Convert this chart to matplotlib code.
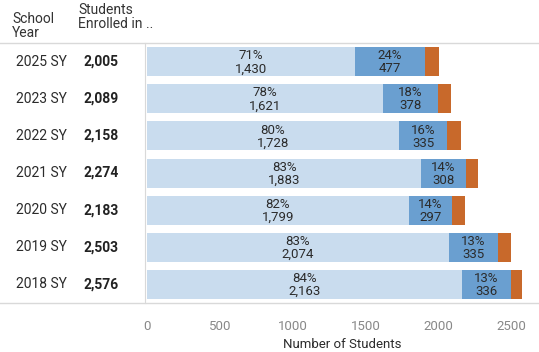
import matplotlib.pyplot as plt

plt.rcParams["font.family"] = ["Roboto", "DejaVu Sans"]

# Enrollment by school year (top row first)
years = ["2025 SY", "2023 SY", "2022 SY", "2021 SY", "2020 SY", "2019 SY", "2018 SY"]
totals = [2005, 2089, 2158, 2274, 2183, 2503, 2576]
group_a = [1430, 1621, 1728, 1883, 1799, 2074, 2163]
group_b = [477, 378, 335, 308, 297, 335, 336]
group_c = [t - a - b for t, a, b in zip(totals, group_a, group_b)]

colors = ["#c9dcee", "#6a9fd0", "#c8692b"]

fig = plt.figure(figsize=(5.39, 3.52), dpi=100)
ax = fig.add_axes([0.269, 0.139, 0.731, 0.739])

n = len(years)
ypos = list(range(n))
h = 0.78

left = [0] * n
for seg, c in zip([group_a, group_b, group_c], colors):
    ax.barh(ypos, seg, left=left, height=h, color=c, edgecolor="none")
    left = [l + s for l, s in zip(left, seg)]

# labels for the first two segments: share and count
for i in range(n):
    for start, seg in [(0, group_a[i]), (group_a[i], group_b[i])]:
        pct = round(100 * seg / totals[i])
        ax.text(start + seg / 2, i + 0.02, f"{pct}%\n{seg:,}", ha="center", va="center",
                fontsize=9.5, color="#2b2b2b", linespacing=1.0)

ax.set_ylim(n - 0.5, -0.5)
ax.set_xlim(-14, 2692)
ax.set_yticks([])
ax.set_xticks([0, 500, 1000, 1500, 2000, 2500])
ax.tick_params(axis="x", length=0, labelsize=9.5, colors="#888888", pad=12)
ax.set_xlabel("Number of Students", fontsize=9.5, color="#2b2b2b", labelpad=4)
for s in ["top", "right", "bottom"]:
    ax.spines[s].set_visible(False)
ax.spines["left"].set_color("#d9d9d9")
ax.spines["left"].set_linewidth(0.8)

# row header table on the left
fig_h = 352
for i, (yr, tot) in enumerate(zip(years, totals)):
    yy = ax.transData.transform((0, i))[1] / fig.dpi / 3.52
    fig.text(16 / 539, yy, yr, ha="left", va="center", fontsize=10, color="#2b2b2b")
    fig.text(84 / 539, yy, f"{tot:,}", ha="left", va="center", fontsize=10,
             color="#222222", fontweight="bold")

fig.text(12 / 539, 1 - 26 / fig_h, "School\nYear", ha="left", va="center",
         fontsize=10, color="#333333", linespacing=0.95)
fig.text(78 / 539, 1 - 17 / fig_h, "Students\nEnrolled in ..", ha="left", va="center",
         fontsize=10, color="#333333", linespacing=0.95)

# horizontal rules above and below the table body
for yfrac in [1 - 43 / fig_h, 1 - 303 / fig_h]:
    fig.add_artist(plt.Line2D([0, 1], [yfrac, yfrac], transform=fig.transFigure,
                              color="#d9d9d9", lw=1))

fig.savefig("out.png", dpi=100)
